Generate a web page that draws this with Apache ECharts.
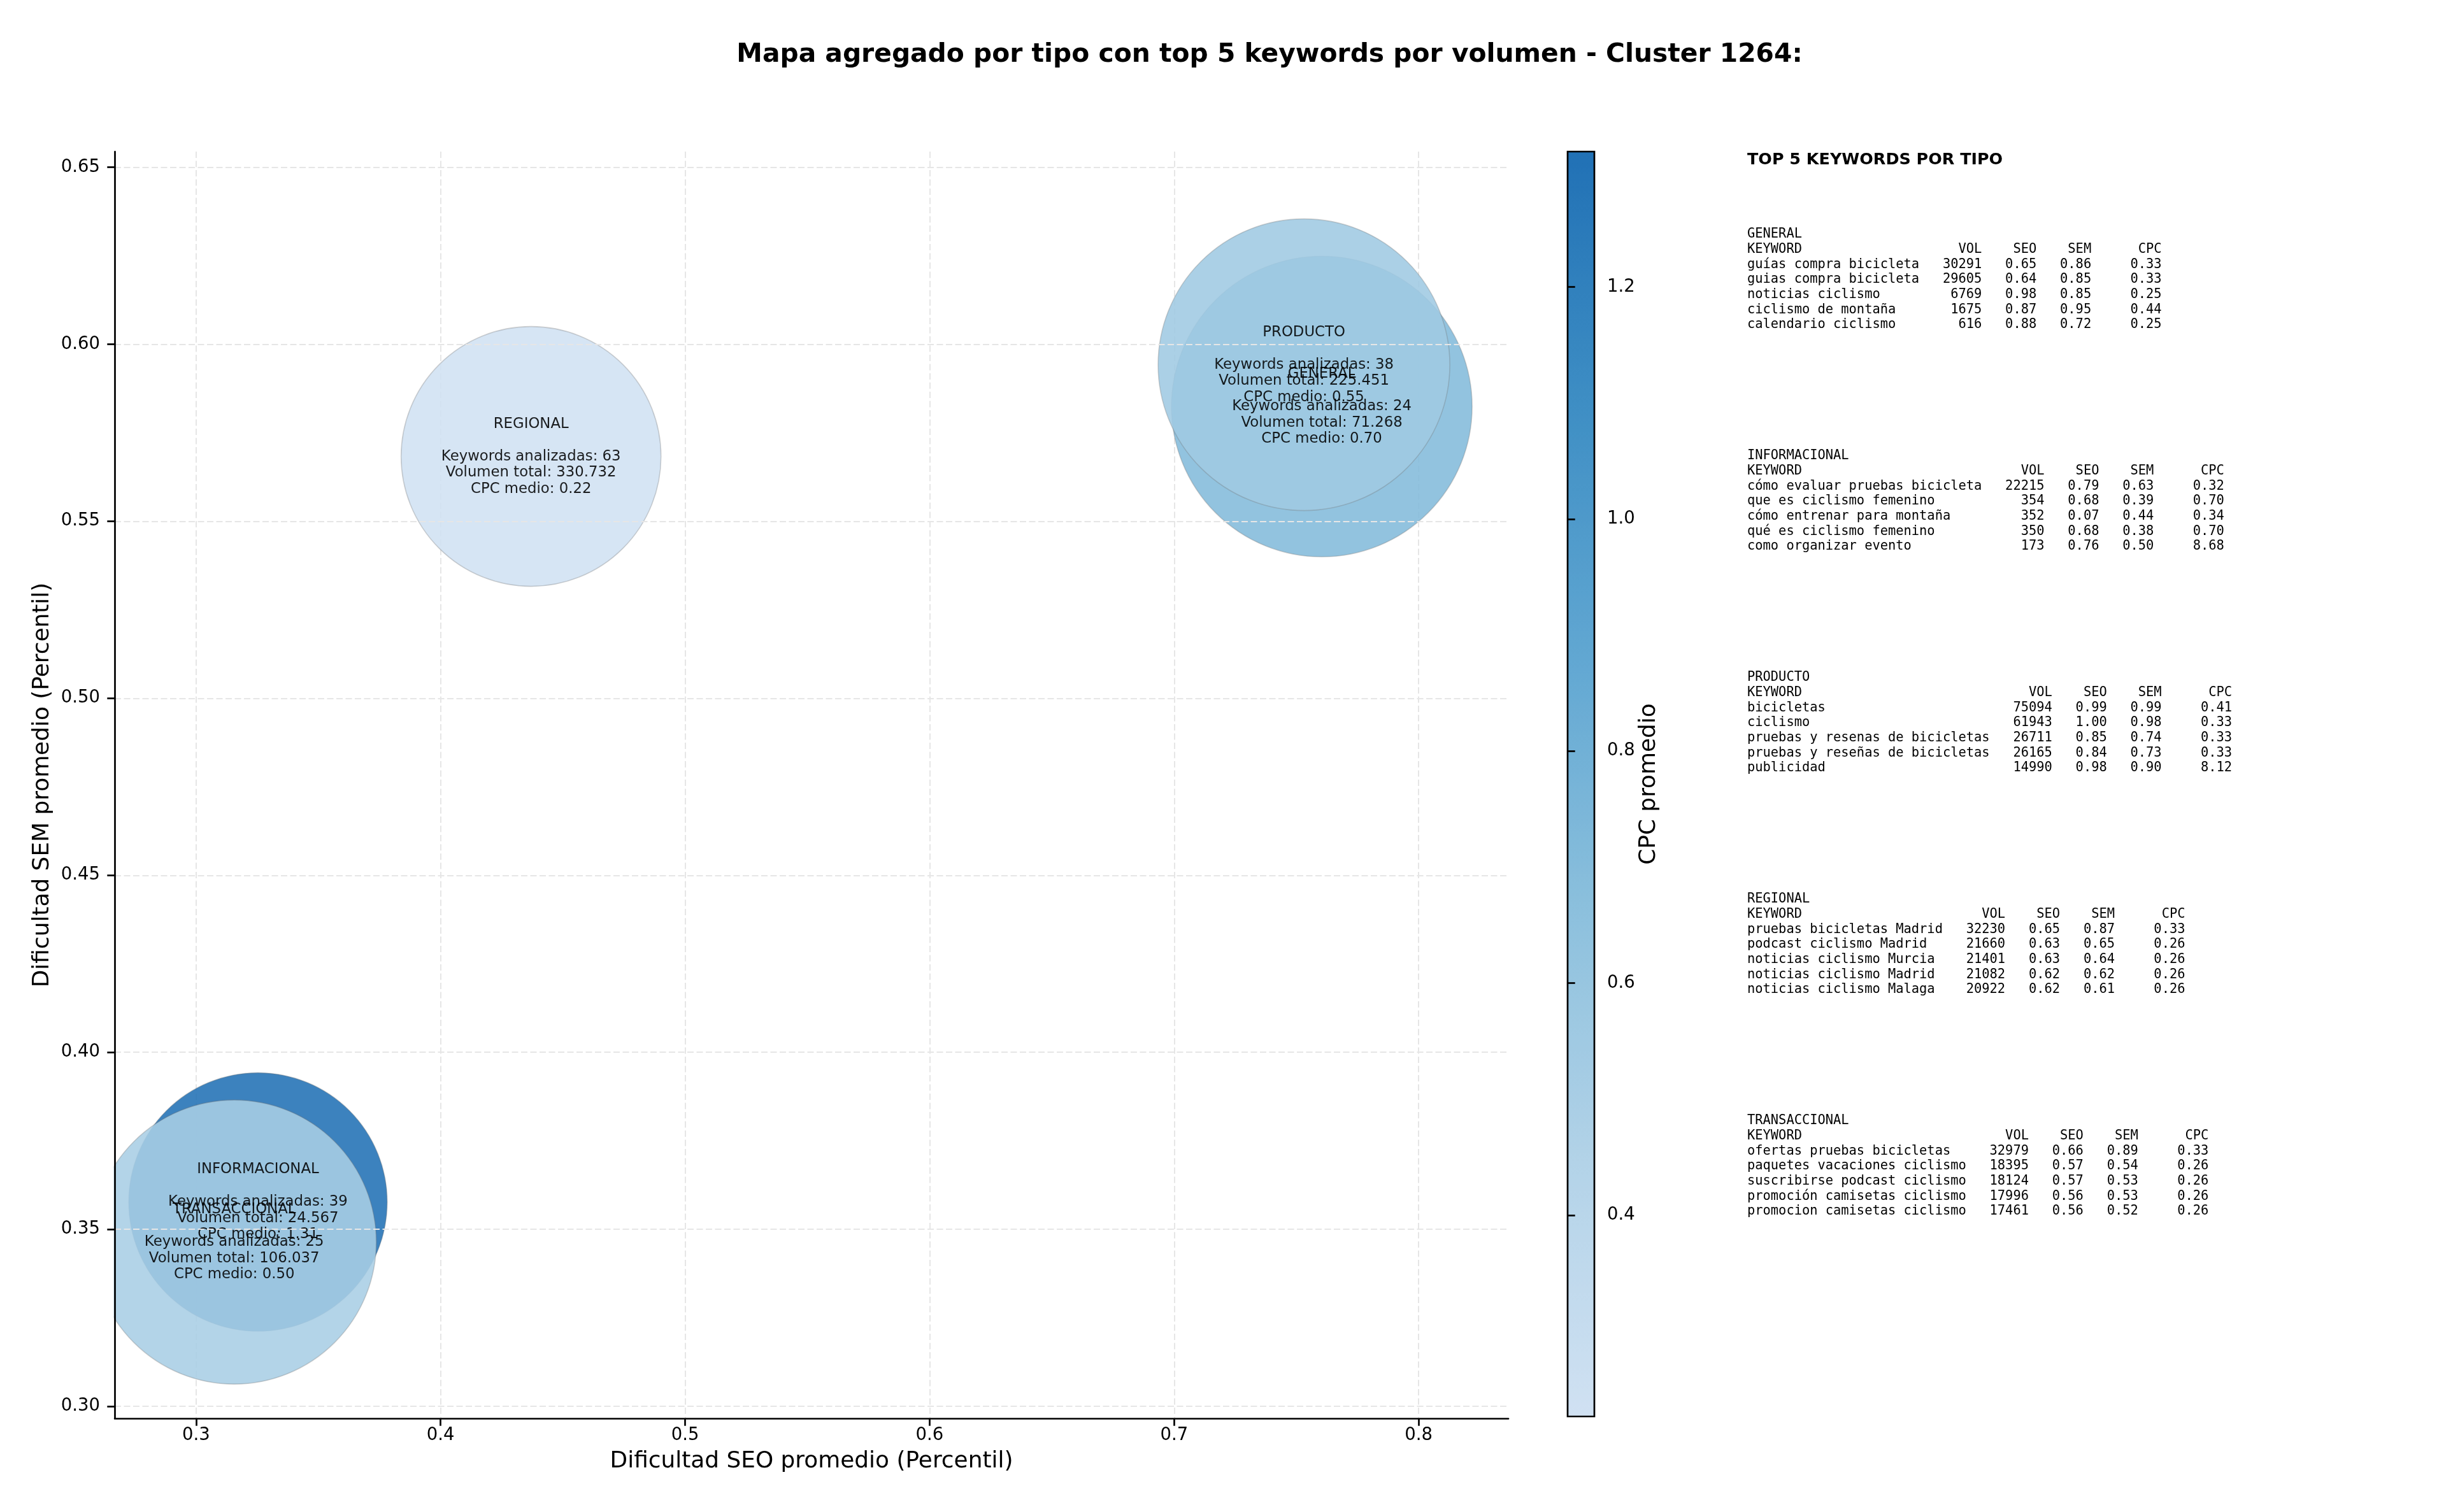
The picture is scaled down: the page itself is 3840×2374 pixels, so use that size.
<!DOCTYPE html>
<html>
<head>
<meta charset="utf-8">
<script src="https://cdn.jsdelivr.net/npm/echarts@6/dist/echarts.min.js"></script>
<style>
  html, body { margin: 0; padding: 0; background: #fff; }
  #chart { width: 3840px; height: 2374px; }
</style>
</head>
<body>
<div id="chart"></div>
<script>
// agregados por tipo
var tipos = ['GENERAL', 'INFORMACIONAL', 'PRODUCTO', 'REGIONAL', 'TRANSACCIONAL'];
var seoMedio = [0.7604, 0.3253, 0.7531, 0.4370, 0.3156];
var semMedio = [0.5824, 0.3577, 0.5942, 0.5683, 0.3464];
var cpcMedio = [0.70, 1.31, 0.55, 0.22, 0.50];
var keywordsAnalizadas = [24, 39, 38, 63, 25];
var volumenTotal = [71268, 24567, 225451, 330732, 106037];

var xTicks = [0.3, 0.4, 0.5, 0.6, 0.7, 0.8];
var yTicks = [0.30, 0.35, 0.40, 0.45, 0.50, 0.55, 0.60, 0.65];
var cbTicks = [0.4, 0.6, 0.8, 1.0, 1.2];

// top 5 keywords por tipo
var kwGeneral = ['guías compra bicicleta', 'guias compra bicicleta', 'noticias ciclismo', 'ciclismo de montaña', 'calendario ciclismo'];
var volGeneral = [30291, 29605, 6769, 1675, 616];
var seoGeneral = [0.65, 0.64, 0.98, 0.87, 0.88];
var semGeneral = [0.86, 0.85, 0.85, 0.95, 0.72];
var cpcGeneral = [0.33, 0.33, 0.25, 0.44, 0.25];

var kwInfo = ['cómo evaluar pruebas bicicleta', 'que es ciclismo femenino', 'cómo entrenar para montaña', 'qué es ciclismo femenino', 'como organizar evento'];
var volInfo = [22215, 354, 352, 350, 173];
var seoInfo = [0.79, 0.68, 0.07, 0.68, 0.76];
var semInfo = [0.63, 0.39, 0.44, 0.38, 0.50];
var cpcInfo = [0.32, 0.70, 0.34, 0.70, 8.68];

var kwProducto = ['bicicletas', 'ciclismo', 'pruebas y resenas de bicicletas', 'pruebas y reseñas de bicicletas', 'publicidad'];
var volProducto = [75094, 61943, 26711, 26165, 14990];
var seoProducto = [0.99, 1.00, 0.85, 0.84, 0.98];
var semProducto = [0.99, 0.98, 0.74, 0.73, 0.90];
var cpcProducto = [0.41, 0.33, 0.33, 0.33, 8.12];

var kwRegional = ['pruebas bicicletas Madrid', 'podcast ciclismo Madrid', 'noticias ciclismo Murcia', 'noticias ciclismo Madrid', 'noticias ciclismo Malaga'];
var volRegional = [32230, 21660, 21401, 21082, 20922];
var seoRegional = [0.65, 0.63, 0.63, 0.62, 0.62];
var semRegional = [0.87, 0.65, 0.64, 0.62, 0.61];
var cpcRegional = [0.33, 0.26, 0.26, 0.26, 0.26];

var kwTrans = ['ofertas pruebas bicicletas', 'paquetes vacaciones ciclismo', 'suscribirse podcast ciclismo', 'promoción camisetas ciclismo', 'promocion camisetas ciclismo'];
var volTrans = [32979, 18395, 18124, 17996, 17461];
var seoTrans = [0.66, 0.57, 0.57, 0.56, 0.56];
var semTrans = [0.89, 0.54, 0.53, 0.53, 0.52];
var cpcTrans = [0.33, 0.26, 0.26, 0.26, 0.26];

// estilos
var FONT = '"DejaVu Sans", "Liberation Sans", sans-serif';
var MONO = '"DejaVu Sans Mono", "Liberation Mono", monospace';
var TICK_SIZE = 27.5;
var NAME_SIZE = 35.9;
var DIAMETRO = { GENERAL: 472, INFORMACIONAL: 406, PRODUCTO: 458, REGIONAL: 408, TRANSACCIONAL: 446 };
var BLUES = ['#d0e1f2', '#b3d3e8', '#8cc0dd', '#61a7d2', '#3e8ec4', '#2171b5'];

function miles(n) {
  return String(n).replace(/\B(?=(\d{3})+(?!\d))/g, '.');
}

function bloque(nombre, kws, vol, seo, sem, cpc) {
  var w = Math.max.apply(null, kws.map(function (k) { return k.length; }));
  var lines = [nombre,
    'KEYWORD'.padEnd(w) + 'VOL'.padStart(8) + 'SEO'.padStart(7) + 'SEM'.padStart(7) + 'CPC'.padStart(9)];
  for (var i = 0; i < kws.length; i++) {
    lines.push(kws[i].padEnd(w) + String(vol[i]).padStart(8) + seo[i].toFixed(2).padStart(7) +
      sem[i].toFixed(2).padStart(7) + cpc[i].toFixed(2).padStart(9));
  }
  return lines.join('\n');
}

var bloques = [
  bloque('GENERAL', kwGeneral, volGeneral, seoGeneral, semGeneral, cpcGeneral),
  bloque('INFORMACIONAL', kwInfo, volInfo, seoInfo, semInfo, cpcInfo),
  bloque('PRODUCTO', kwProducto, volProducto, seoProducto, semProducto, cpcProducto),
  bloque('REGIONAL', kwRegional, volRegional, seoRegional, semRegional, cpcRegional),
  bloque('TRANSACCIONAL', kwTrans, volTrans, seoTrans, semTrans, cpcTrans)
];

var chart = echarts.init(document.getElementById('chart'));

var graphics = [
  { type: 'text', x: 1993, y: 86, z: 10,
    style: { text: 'Mapa agregado por tipo con top 5 keywords por volumen - Cluster 1264:',
      font: 'bold 40.8px ' + FONT, fill: '#000', textAlign: 'center', textVerticalAlign: 'middle' } },
  // recorte a la izquierda del eje (como el clip de matplotlib)
  { type: 'rect', z: 5, shape: { x: 0, y: 200, width: 178.6, height: 2060 },
    style: { fill: '#fff' } },
  { type: 'text', x: 2743, y: 251, z: 10,
    style: { text: 'TOP 5 KEYWORDS POR TIPO', font: 'bold 25.4px ' + FONT, fill: '#000',
      textVerticalAlign: 'middle' } }
];
bloques.forEach(function (txt, i) {
  graphics.push({ type: 'text', x: 2743, y: 356 + i * 348, z: 10,
    style: { text: txt, font: '20.4px ' + MONO, fill: '#000', lineHeight: 23.7,
      textVerticalAlign: 'top' } });
});

var option = {
  backgroundColor: '#fff',
  animation: false,
  textStyle: { fontFamily: FONT },
  graphic: graphics,
  grid: [
    { left: 180, top: 238, width: 2188, height: 1989 },
    { left: 2461, top: 238, width: 42, height: 1986, show: true, z: 10,
      backgroundColor: 'transparent', borderColor: '#000', borderWidth: 2.7 }
  ],
  visualMap: {
    type: 'continuous',
    min: 0.22,
    max: 1.31,
    dimension: 2,
    seriesIndex: 0,
    calculable: false,
    orient: 'vertical',
    left: 2461,
    top: 238,
    padding: 0,
    itemWidth: 42,
    itemHeight: 1986,
    text: null,
    inRange: { color: BLUES }
  },
  xAxis: [
    {
      type: 'value', gridIndex: 0, min: 0.2667, max: 0.8367,
      name: 'Dificultad SEO promedio (Percentil)', nameLocation: 'middle', nameGap: 50,
      nameTextStyle: { fontSize: NAME_SIZE, color: '#000', fontFamily: FONT },
      axisLine: { show: true, lineStyle: { color: '#000', width: 2.7 } },
      axisTick: { show: true, length: 11.7, lineStyle: { color: '#000', width: 2.7 }, customValues: xTicks },
      axisLabel: { fontSize: TICK_SIZE, color: '#000', margin: 13, customValues: xTicks,
        formatter: function (v) { return v.toFixed(1); } },
      splitLine: { show: true, lineStyle: { color: '#e6e6e6', width: 2, type: [10, 4.5] } }
    },
    { type: 'value', gridIndex: 1, show: false, min: 0, max: 1 }
  ],
  yAxis: [
    {
      type: 'value', gridIndex: 0, min: 0.2966, max: 0.6544, z: 6,
      name: 'Dificultad SEM promedio (Percentil)', nameLocation: 'middle', nameGap: 82,
      nameTextStyle: { fontSize: NAME_SIZE, color: '#000', fontFamily: FONT },
      axisLine: { show: true, lineStyle: { color: '#000', width: 2.7 } },
      axisTick: { show: true, length: 11.7, lineStyle: { color: '#000', width: 2.7 }, customValues: yTicks },
      axisLabel: { fontSize: TICK_SIZE, color: '#000', margin: 23, customValues: yTicks,
        formatter: function (v) { return v.toFixed(2); } },
      splitLine: { show: true, lineStyle: { color: '#e6e6e6', width: 2, type: [10, 4.5] } }
    },
    {
      type: 'value', gridIndex: 1, min: 0.2266, max: 1.3166, position: 'right', z: 10,
      name: 'CPC promedio', nameLocation: 'middle', nameGap: 67, nameRotate: 90,
      nameTextStyle: { fontSize: NAME_SIZE, color: '#000', fontFamily: FONT },
      axisLine: { show: false },
      axisTick: { show: true, length: 11.7, lineStyle: { color: '#000', width: 2.7 }, customValues: cbTicks },
      axisLabel: { fontSize: TICK_SIZE, color: '#000', margin: 20, customValues: cbTicks,
        formatter: function (v) { return v.toFixed(1); } },
      splitLine: { show: false }
    }
  ],
  series: [
    {
      type: 'scatter',
      xAxisIndex: 0,
      yAxisIndex: 0,
      symbol: 'circle',
      symbolSize: function (val, p) { return DIAMETRO[p.name]; },
      itemStyle: { opacity: 0.88, borderColor: 'rgba(110,110,110,0.35)', borderWidth: 1.6 },
      label: {
        show: true,
        position: 'inside',
        color: '#000',
        fontSize: 22.8,
        lineHeight: 25.5,
        fontFamily: FONT,
        align: 'center',
        formatter: function (p) {
          var i = p.dataIndex;
          return tipos[i] + '\n\nKeywords analizadas: ' + keywordsAnalizadas[i] +
            '\nVolumen total: ' + miles(volumenTotal[i]) +
            '\nCPC medio: ' + cpcMedio[i].toFixed(2);
        }
      },
      emphasis: { disabled: true },
      data: tipos.map(function (t, i) {
        return { name: t, value: [seoMedio[i], semMedio[i], cpcMedio[i]] };
      })
    }
  ]
};

option && chart.setOption(option);
</script>
</body>
</html>
